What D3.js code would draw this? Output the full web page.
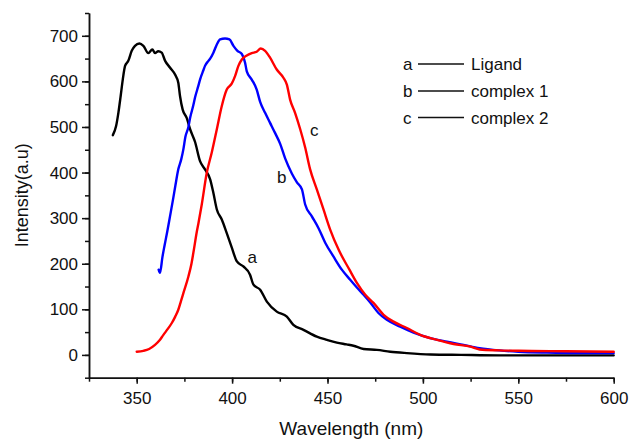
<!DOCTYPE html>
<html><head><meta charset="utf-8">
<script src="https://cdn.jsdelivr.net/npm/d3@7"></script>
<style>body{margin:0;background:#fff}svg{display:block}text{font-family:"Liberation Sans",Arial,sans-serif;fill:#111}</style>
</head><body><svg id="c" width="632" height="442"></svg>
<script>
const xTicks = [350,400,450,500,550,600];
const yTicks = [0,100,200,300,400,500,600,700];
const seriesNames = ["Ligand","complex 1","complex 2"];
const seriesLetters = ["a","b","c"];
const seriesColors = ["#000000","#0000ff","#ff0000"];
const xTitle = "Wavelength (nm)";
const yTitle = "Intensity(a.u)";

const ligandX = [337.5,339.2,340.4,341.6,342.7,343.9,345.6,347.4,349.1,351.4,353.5,356.1,358.2,359.6,361.3,363.1,364.9,367.5,370.1,371.8,372.7,374.1,376.2,378,380.6,383.2,385.8,388.5,390.2,392,394.6,397.2,399.8,402.5,405.9,409.4,411.2,414.7,418.2,423.4,428.7,432.1,437.4,444.4,449.7,454.9,460,463.6,468.9,475.9,482.9,491.6,504,520,540,560,580,600];
const ligandY = [482,502,531,568,604,634,645,667,678,683,678,662,670,662,666,663,645,630,615,597,568,538,520,495,467,425,407,385,355,319,297,267,236,205,194,176,154,143,117,95,84,66,55,40,33,27,23,20,13,11,7,4,1,0,-1,-1,-1,-1];

const c1X = [361.5,362.2,363.5,364.5,366,367.5,369,370.3,371.8,373.4,374.5,375.5,377.1,378,379.7,380.6,382.3,383.2,385,385.8,387.6,388.5,390.2,392,393.7,396.3,398.6,400.7,402.8,405.1,406.8,407.7,410.3,412.9,414.7,417.3,419.9,422.5,425.2,427.8,431.3,433.9,436.6,438.3,441.8,445.3,448.8,453.1,457.5,461.9,465.4,468.9,472.4,476.7,481.1,488.1,495.1,503.8,512.6,521.3,529.7,540,550,565,580,600];
const c1Y = [187,180,215,238,270,305,340,372,407,430,452,478,500,520,548,565,590,604,625,634,645,650,663,681,692,694,692,678,667,660,641,622,604,582,555,531,509,487,463,431,398,379,363,330,304,278,246,216,187,165,148,132,115,92,77,62,49,37,29,22,15,10,7,5,4,4];

const c2X = [350,353.5,356.5,359.6,362,364,366.3,368.4,370.2,371.8,373.2,374.5,377.1,378.7,379.7,381.5,382.5,384.1,386.7,389.4,392,394.6,397.2,399.8,401.6,403.3,405.1,407.7,410.3,412.9,415,417.3,419.9,423.4,426.9,428.7,430.4,433,435.7,438.3,440.9,444.4,447.9,451.4,455.8,461.5,465.4,469.8,474.1,479.4,484.6,491.6,498.6,507.4,516.1,525,529.7,540,550,575,600];
const c2Y = [7,9,13,22,32,44,57,70,84,99,118,136,172,200,224,270,292,330,399,445,495,546,582,595,612,634,648,657,662,665,672,667,652,626,608,593,560,531,495,455,407,363,319,275,231,187,158,132,114,88,73,59,44,33,24,18,12,10,9,8,7];

const W = 632, H = 442;
const m = {l:89, r:18.3, t:13, b:64.3};
const svg = d3.select("#c");
const x = d3.scaleLinear().domain([325,600]).range([m.l, W-m.r]);
const y = d3.scaleLinear().domain([-50,750]).range([H-m.b, m.t]);

// axes
const xMinor = d3.range(325,601,25);
const yMinor = d3.range(-50,751,50);
const gx = svg.append("g").attr("transform",`translate(0,${y(-50)})`);
gx.call(d3.axisBottom(x).tickValues(xMinor).tickSize(4).tickFormat("").tickSizeOuter(0));
gx.append("g").call(d3.axisBottom(x).tickValues(xTicks).tickSize(6).tickSizeOuter(0).tickPadding(8));
gx.selectAll("path,line").attr("stroke","#111").attr("stroke-width",1.5);
gx.selectAll("text").style("font-size","17px").attr("fill","#111").style("font-family","Liberation Sans, Arial, sans-serif");

const gy = svg.append("g").attr("transform",`translate(${x(325)},0)`);
gy.call(d3.axisLeft(y).tickValues(yMinor).tickSize(4).tickFormat("").tickSizeOuter(0));
gy.append("g").call(d3.axisLeft(y).tickValues(yTicks).tickSize(7).tickSizeOuter(0).tickPadding(4));
gy.selectAll("path,line").attr("stroke","#111").attr("stroke-width",1.5);
gy.selectAll("text").style("font-size","17px").attr("fill","#111").style("font-family","Liberation Sans, Arial, sans-serif");

svg.append("text").attr("x",(x(325)+x(600))/2).attr("y",435).attr("text-anchor","middle").style("font-size","19px").text(xTitle);
svg.append("text").attr("transform",`translate(28,${(y(-50)+y(750))/2}) rotate(-90)`).attr("text-anchor","middle").style("font-size","18px").text(yTitle);

// lines
const series = [[ligandX,ligandY],[c1X,c1Y],[c2X,c2Y]];
const line = d3.line().x(d=>x(d[0])).y(d=>y(d[1])).curve(d3.curveMonotoneX);
series.forEach((s,i)=>{
  const pts = s[0].map((v,j)=>[v,s[1][j]]);
  svg.append("path").datum(pts).attr("d",line).attr("fill","none").attr("stroke",seriesColors[i]).attr("stroke-width",2.4).attr("stroke-linejoin","round").attr("stroke-linecap","round");
});

// curve labels
const labelPos = [[410.5,202],[426,378],[443,480]];
labelPos.forEach((p,i)=>{
  svg.append("text").attr("x",x(p[0])).attr("y",y(p[1])).attr("text-anchor","middle").style("font-size","17px").text(seriesLetters[i]);
});

// legend
const legY = [70,97,123.5];
seriesNames.forEach((n,i)=>{
  svg.append("text").attr("x",403).attr("y",legY[i]).style("font-size","17px").text(seriesLetters[i]);
  svg.append("line").attr("x1",418).attr("x2",464).attr("y1",legY[i]-6).attr("y2",legY[i]-6).attr("stroke","#111").attr("stroke-width",1.3);
  svg.append("text").attr("x",471).attr("y",legY[i]).style("font-size","17px").text(n);
});
</script></body></html>
